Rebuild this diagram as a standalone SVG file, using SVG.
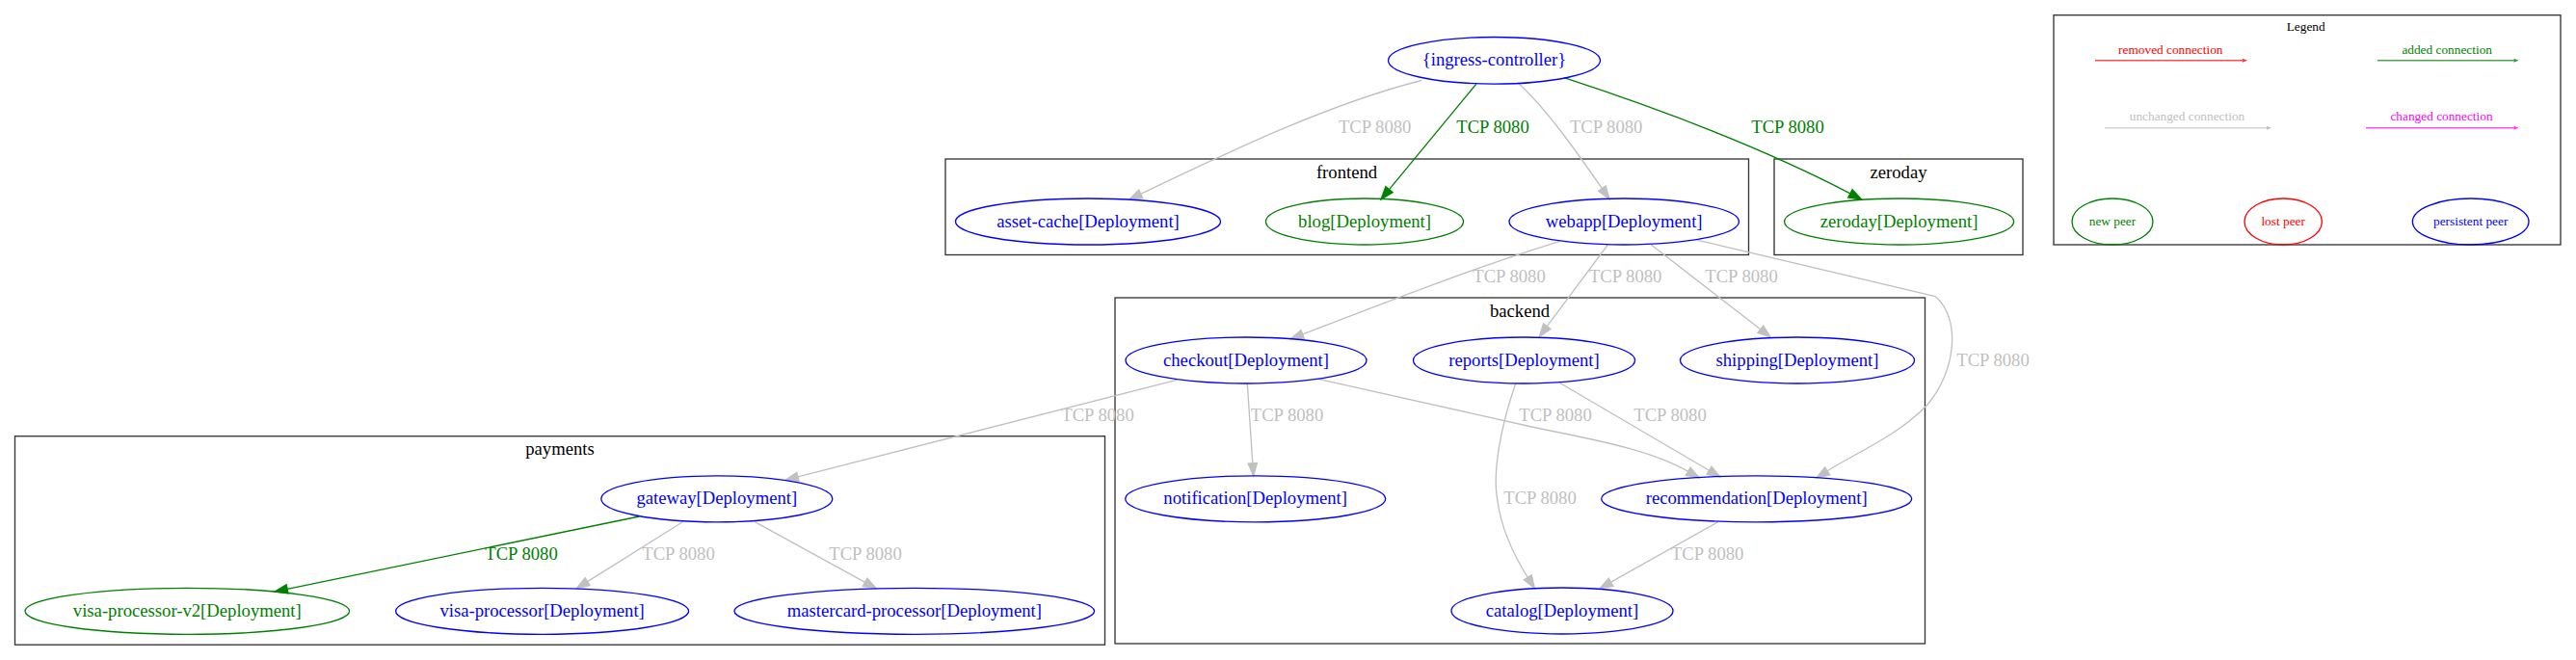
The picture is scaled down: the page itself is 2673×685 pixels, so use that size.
<svg xmlns="http://www.w3.org/2000/svg" width="2673" height="685" viewBox="0 0 2673 685">
<style>
text{font-family:"Liberation Serif","Times New Roman",serif;font-size:18.67px;text-anchor:middle}
.cl{fill:none;stroke:#333;stroke-width:1.33}
.nb{fill:none;stroke:#0000ff;stroke-width:1.33}
.ng{fill:none;stroke:#008000;stroke-width:1.33}
.nr{fill:none;stroke:#ff0000;stroke-width:1.33}
.tb{fill:#0000ff}
.tg{fill:#008000}
.tr{fill:#ff0000}
.tk{fill:#000}
.ts{fill:#c0c0c0}
.tm{fill:#ff00ff}
.es{fill:none;stroke:#c0c0c0;stroke-width:1.33;marker-end:url(#as)}
.eg{fill:none;stroke:#008000;stroke-width:1.33;marker-end:url(#ag)}
.lg{font-size:13.33px}
.ll{fill:none;stroke-width:1.6;stroke-opacity:0.7}
</style>
<defs>
<marker id="as" markerUnits="userSpaceOnUse" markerWidth="14" markerHeight="10" refX="0" refY="5" orient="auto" viewBox="0 0 14 10" overflow="visible"><path d="M0,0.33 L13.33,5 L0,9.67 Z" fill="#c0c0c0" stroke="#c0c0c0" stroke-width="1.33"/></marker>
<marker id="ag" markerUnits="userSpaceOnUse" markerWidth="14" markerHeight="10" refX="0" refY="5" orient="auto" viewBox="0 0 14 10" overflow="visible"><path d="M0,0.33 L13.33,5 L0,9.67 Z" fill="#008000" stroke="#008000" stroke-width="1.33"/></marker>
</defs>
<rect width="2673" height="685" fill="#fff"/>

<g id="cluster-frontend"><rect class="cl" x="981" y="165" width="833.5" height="99.5"/><text class="tk" x="1397.5" y="185">frontend</text></g>
<g id="cluster-zeroday"><rect class="cl" x="1841" y="165" width="258" height="99.5"/><text class="tk" x="1970" y="185">zeroday</text></g>
<g id="cluster-backend"><rect class="cl" x="1157" y="309" width="840.5" height="359"/><text class="tk" x="1577" y="329">backend</text></g>
<g id="cluster-payments"><rect class="cl" x="15.5" y="452.7" width="1131" height="216.5"/><text class="tk" x="581" y="472">payments</text></g>

<g id="connectors">
<path class="es" d="M1475,83.5 C1378,108 1273.7,158.3 1183.7,201.3"/>
<text class="ts" x="1426.7" y="138">TCP 8080</text>
<path class="eg" d="M1531.7,87.3 L1441.5,196.7"/>
<text class="tg" x="1549" y="138">TCP 8080</text>
<path class="es" d="M1575,86 C1604.9,112.6 1639.7,162.8 1662.4,195.7"/>
<text class="ts" x="1666.7" y="138">TCP 8080</text>
<path class="eg" d="M1623,80.7 C1718,111.7 1831.2,154.5 1919.9,200.8"/>
<text class="tg" x="1855" y="138">TCP 8080</text>
<path class="es" d="M1618.3,250.7 C1540,274 1435.7,314.5 1351.7,346.9"/>
<text class="ts" x="1566" y="293">TCP 8080</text>
<path class="es" d="M1668.3,254 L1605.3,338.6"/>
<text class="ts" x="1686.7" y="293">TCP 8080</text>
<path class="es" d="M1713.3,254 L1826.8,341.8"/>
<text class="ts" x="1807" y="293">TCP 8080</text>
<path class="es" d="M1761.7,249.3 L2008,307.5 C2035,330 2030,385 2000,420 C1970,452 1925.7,469.9 1896.2,488.8"/>
<text class="ts" x="2068" y="380">TCP 8080</text>
<path class="es" d="M1221,394.3 L827.9,494.9"/>
<text class="ts" x="1139" y="437">TCP 8080</text>
<path class="es" d="M1294.3,398.3 L1299.8,480.7"/>
<text class="ts" x="1335.5" y="437">TCP 8080</text>
<path class="es" d="M1368,393.3 L1585,442 C1640,454 1708.2,464.3 1751.7,489.3"/>
<text class="ts" x="1614" y="437">TCP 8080</text>
<path class="es" d="M1618.3,397.3 L1773.5,488.3"/>
<text class="ts" x="1733" y="437">TCP 8080</text>
<path class="es" d="M1572.7,398.3 C1558,440 1548,490 1554,520 C1558,550 1570,575 1585.3,599.3"/>
<text class="ts" x="1598" y="523">TCP 8080</text>
<path class="es" d="M1782.7,541.7 L1671.6,604.2"/>
<text class="ts" x="1771.7" y="581">TCP 8080</text>
<path class="eg" d="M663.3,536 L298.1,611.3"/>
<text class="tg" x="541" y="581">TCP 8080</text>
<path class="es" d="M708.3,541.7 L609.6,603.6"/>
<text class="ts" x="704" y="581">TCP 8080</text>
<path class="es" d="M783.3,541.7 L897.6,604.3"/>
<text class="ts" x="898" y="581">TCP 8080</text>
</g>

<g id="ingress-controller"><ellipse class="nb" cx="1550.5" cy="62.8" rx="110" ry="24.3"/><text class="tb" x="1550.5" y="68.4">{ingress-controller}</text></g>
<g id="asset-cache"><ellipse class="nb" cx="1129" cy="230" rx="137.5" ry="24"/><text class="tb" x="1129" y="235.6">asset-cache[Deployment]</text></g>
<g id="blog"><ellipse class="ng" cx="1416" cy="230" rx="102.5" ry="24"/><text class="tg" x="1416" y="235.6">blog[Deployment]</text></g>
<g id="webapp"><ellipse class="nb" cx="1685.2" cy="230" rx="119.2" ry="24"/><text class="tb" x="1685.2" y="235.6">webapp[Deployment]</text></g>
<g id="zeroday"><ellipse class="ng" cx="1970.6" cy="230" rx="119" ry="24"/><text class="tg" x="1970.6" y="235.6">zeroday[Deployment]</text></g>
<g id="checkout"><ellipse class="nb" cx="1293" cy="374" rx="125" ry="24"/><text class="tb" x="1293" y="379.6">checkout[Deployment]</text></g>
<g id="reports"><ellipse class="nb" cx="1581.5" cy="374" rx="115" ry="24"/><text class="tb" x="1581.5" y="379.6">reports[Deployment]</text></g>
<g id="shipping"><ellipse class="nb" cx="1865" cy="374" rx="121.5" ry="24"/><text class="tb" x="1865" y="379.6">shipping[Deployment]</text></g>
<g id="notification"><ellipse class="nb" cx="1302.7" cy="517.8" rx="135" ry="24"/><text class="tb" x="1302.7" y="523.4">notification[Deployment]</text></g>
<g id="recommendation"><ellipse class="nb" cx="1822.7" cy="517.8" rx="161" ry="24"/><text class="tb" x="1822.7" y="523.4">recommendation[Deployment]</text></g>
<g id="catalog"><ellipse class="nb" cx="1621" cy="634" rx="115" ry="24"/><text class="tb" x="1621" y="639.6">catalog[Deployment]</text></g>
<g id="gateway"><ellipse class="nb" cx="743.8" cy="517.8" rx="120" ry="24"/><text class="tb" x="743.8" y="523.4">gateway[Deployment]</text></g>
<g id="visa-processor-v2"><ellipse class="ng" cx="194.3" cy="634.3" rx="168.3" ry="24"/><text class="tg" x="194.3" y="639.9">visa-processor-v2[Deployment]</text></g>
<g id="visa-processor"><ellipse class="nb" cx="562.6" cy="634.3" rx="152" ry="24"/><text class="tb" x="562.6" y="639.9">visa-processor[Deployment]</text></g>
<g id="mastercard-processor"><ellipse class="nb" cx="948.8" cy="634.3" rx="186.8" ry="24"/><text class="tb" x="948.8" y="639.9">mastercard-processor[Deployment]</text></g>

<g id="legend">
<rect class="cl" x="2131" y="15.7" width="526" height="238.3"/>
<text class="tk lg" x="2392.7" y="31.7">Legend</text>
<text class="tr lg" x="2252.3" y="55.5">removed connection</text>
<line class="ll" x1="2174" y1="62.7" x2="2327" y2="62.7" stroke="#ff0000"/>
<path d="M2327,60.7 L2332,62.7 L2327,64.7 Z" fill="#ff0000" fill-opacity="0.8"/>
<text class="tg lg" x="2539.2" y="55.5">added connection</text>
<line class="ll" x1="2467" y1="62.7" x2="2608.5" y2="62.7" stroke="#008000"/>
<path d="M2608.5,60.7 L2613.5,62.7 L2608.5,64.7 Z" fill="#008000" fill-opacity="0.8"/>
<text class="ts lg" x="2269.5" y="125">unchanged connection</text>
<line class="ll" x1="2184" y1="132.7" x2="2352" y2="132.7" stroke="#c0c0c0"/>
<path d="M2352,130.7 L2357,132.7 L2352,134.7 Z" fill="#c0c0c0"/>
<text class="tm lg" x="2533.5" y="125">changed connection</text>
<line class="ll" x1="2455" y1="132.7" x2="2608.5" y2="132.7" stroke="#ff00ff"/>
<path d="M2608.5,130.7 L2613.5,132.7 L2608.5,134.7 Z" fill="#ff00ff" fill-opacity="0.8"/>
<ellipse class="ng" cx="2192" cy="230" rx="42" ry="24"/>
<text class="tg lg" x="2192" y="234">new peer</text>
<ellipse class="nr" cx="2369.2" cy="230" rx="40.2" ry="24"/>
<text class="tr lg" x="2369.2" y="234">lost peer</text>
<ellipse class="nb" cx="2563.7" cy="230" rx="60.3" ry="24"/>
<text class="tb lg" x="2563.7" y="234">persistent peer</text>
</g>
</svg>
